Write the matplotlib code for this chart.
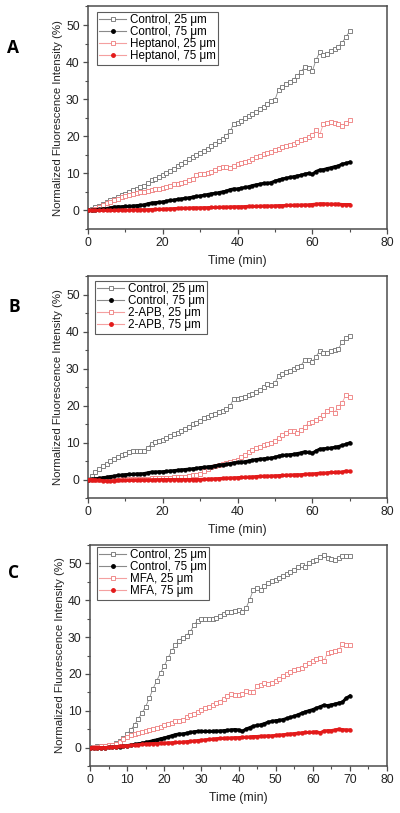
import matplotlib
matplotlib.use("Agg")
import matplotlib.pyplot as plt
from matplotlib.lines import Line2D
from matplotlib.ticker import MultipleLocator
import numpy as np

plt.rcParams['font.family'] = ['Liberation Sans', 'DejaVu Sans']

time_min = list(range(0, 71))

# Panel A
a_control_25 = [0.0,0.3,0.8,1.3,1.8,2.3,2.8,3.2,3.7,4.1,4.5,4.9,5.4,5.8,6.2,6.5,7.5,8.1,8.5,9.0,9.5,10.0,10.7,11.3,11.9,12.6,13.2,13.8,14.4,14.9,15.5,16.1,16.7,17.3,17.9,18.6,19.3,20.2,21.3,23.4,23.5,24.1,24.8,25.4,26.0,26.6,27.3,28.0,28.8,29.6,29.8,32.6,33.4,34.0,34.7,35.3,36.3,37.3,38.8,38.3,37.5,40.6,42.6,41.8,42.3,42.9,43.5,44.2,45.2,46.8,48.3]
a_control_75 = [0,0.1,0.2,0.3,0.4,0.5,0.7,0.9,1.0,1.0,1.1,1.1,1.2,1.3,1.4,1.5,1.8,2.0,2.1,2.2,2.3,2.5,2.7,2.8,3.0,3.1,3.3,3.4,3.6,3.8,3.9,4.1,4.3,4.5,4.6,4.8,5.0,5.2,5.6,5.8,5.8,6.0,6.2,6.4,6.7,6.9,7.1,7.3,7.3,7.5,7.9,8.2,8.5,8.7,8.9,9.1,9.3,9.5,9.8,10.0,9.7,10.5,10.9,11.0,11.3,11.5,11.8,12.0,12.5,12.7,13.0]
a_drug_25 = [0,0.2,0.5,0.9,1.4,1.9,2.4,2.8,3.2,3.6,3.9,4.2,4.5,4.7,4.9,5.1,5.3,5.5,5.7,5.9,6.1,6.3,6.7,7.0,7.2,7.4,7.7,8.1,8.6,9.6,9.8,9.7,10.0,10.4,11.0,11.5,11.6,11.8,11.5,12.0,12.5,12.8,13.0,13.4,13.9,14.4,14.8,15.2,15.4,15.8,16.2,16.6,17.0,17.3,17.6,18.0,18.4,18.9,19.4,19.8,20.3,21.6,20.4,23.4,23.6,23.8,23.6,23.2,22.8,23.5,24.3]
a_drug_75 = [0.0,0.0,0.0,0.0,0.0,0.0,0.0,0.0,0.05,0.1,0.1,0.1,0.15,0.2,0.2,0.2,0.2,0.25,0.3,0.3,0.35,0.4,0.45,0.5,0.55,0.6,0.6,0.65,0.7,0.7,0.7,0.75,0.75,0.8,0.8,0.85,0.9,0.9,0.95,1.0,1.0,1.0,1.05,1.1,1.1,1.1,1.15,1.2,1.2,1.2,1.25,1.3,1.3,1.35,1.4,1.4,1.45,1.45,1.5,1.5,1.6,1.7,1.8,1.8,1.75,1.7,1.7,1.7,1.6,1.6,1.6]

# Panel B
b_control_25 = [0,0.9,1.9,2.8,3.6,4.3,4.9,5.5,6.0,6.5,7.0,7.3,7.6,7.8,7.7,7.8,8.6,9.7,10.1,10.3,10.6,11.2,11.7,12.2,12.7,13.1,13.7,14.3,14.9,15.4,15.9,16.5,16.9,17.3,17.8,18.2,18.5,19.0,19.9,21.8,21.7,22.0,22.4,22.8,23.2,23.6,24.2,24.9,25.7,25.5,26.0,28.1,28.6,29.0,29.4,29.8,30.3,30.8,32.4,32.2,31.7,33.2,34.8,34.3,34.2,34.6,35.0,35.3,37.1,38.2,38.9]
b_control_75 = [0,0.1,0.2,0.3,0.5,0.6,0.8,0.9,1.1,1.2,1.3,1.4,1.4,1.5,1.5,1.6,1.8,2.0,2.0,2.1,2.1,2.2,2.3,2.4,2.5,2.6,2.7,2.8,2.9,3.0,3.2,3.3,3.4,3.5,3.7,3.9,4.0,4.1,4.3,4.5,4.6,4.7,4.8,5.0,5.2,5.4,5.5,5.6,5.7,5.8,6.0,6.3,6.5,6.6,6.7,6.8,7.0,7.2,7.5,7.3,7.1,7.7,8.2,8.3,8.4,8.5,8.7,8.9,9.2,9.5,9.9]
b_drug_25 = [0,0,0,0,0,0,0,0,0,0.05,0.1,0.1,0.15,0.2,0.2,0.2,0.25,0.3,0.3,0.35,0.4,0.45,0.5,0.55,0.6,0.7,0.8,1.0,1.2,1.3,1.5,2.3,2.9,3.3,3.6,3.9,4.1,4.4,4.7,5.0,5.4,6.0,6.6,7.5,8.0,8.6,8.9,9.2,9.5,10.0,10.5,11.2,12.0,12.5,13.0,13.2,12.6,13.4,14.2,15.2,15.6,16.0,16.6,17.5,18.6,19.0,18.1,19.6,20.8,22.8,22.2]
b_drug_75 = [0,0,-0.1,-0.2,-0.3,-0.4,-0.5,-0.3,-0.2,-0.2,-0.2,-0.2,-0.15,-0.15,-0.1,-0.1,-0.1,-0.1,-0.05,-0.05,0,0,0,0,0,0,0,0,0,0,0,0.05,0.1,0.15,0.2,0.25,0.3,0.35,0.4,0.45,0.5,0.55,0.6,0.65,0.7,0.8,0.85,0.9,0.9,0.95,1.0,1.05,1.1,1.15,1.2,1.25,1.3,1.3,1.4,1.5,1.5,1.6,1.7,1.7,1.8,1.9,1.9,2.0,2.0,2.3,2.2]

# Panel C
c_control_25 = [0.2,0.2,0.3,0.3,0.4,0.5,0.7,1.2,1.8,2.6,3.6,4.8,6.2,7.8,9.4,11.1,13.5,16.0,18.2,20.3,22.2,24.3,26.2,27.8,29.0,29.8,30.4,31.5,33.2,34.5,34.8,34.8,34.9,35.0,35.3,35.8,36.4,36.9,36.9,37.2,37.3,36.7,37.8,40.2,42.8,43.3,42.8,43.8,44.8,45.3,45.6,46.0,46.5,47.0,47.6,48.3,49.0,49.6,49.1,50.0,50.7,51.0,51.7,52.4,51.6,51.2,50.9,51.4,52.1,51.9,52.0]
c_control_75 = [0,0,0,0,0,0.05,0.1,0.15,0.25,0.4,0.5,0.7,0.85,1.0,1.2,1.4,1.6,1.9,2.1,2.4,2.6,2.9,3.2,3.5,3.7,3.7,3.9,4.1,4.3,4.4,4.4,4.4,4.4,4.4,4.5,4.5,4.6,4.7,4.8,4.9,4.8,4.4,5.0,5.4,5.8,6.0,6.2,6.5,6.9,7.1,7.3,7.4,7.6,7.9,8.2,8.5,8.9,9.3,9.7,10.0,10.3,10.7,11.1,11.5,11.4,11.6,11.8,12.1,12.3,13.4,14.0]
c_drug_25 = [0.0,0.1,0.2,0.3,0.4,0.6,0.8,1.1,1.6,2.2,2.8,3.3,3.7,4.0,4.3,4.5,4.8,5.0,5.3,5.7,6.0,6.4,6.8,7.1,7.3,7.6,8.2,8.8,9.2,9.6,10.1,10.7,11.1,11.5,12.0,12.5,13.2,13.9,14.5,14.3,14.2,14.6,15.3,15.2,15.1,16.6,17.1,17.5,17.2,17.6,18.0,18.6,19.3,19.9,20.5,21.0,21.3,21.7,22.3,22.9,23.5,24.0,24.4,23.4,25.8,26.0,26.2,26.6,28.0,27.8,27.8]
c_drug_75 = [0,0,0,0,0,0.05,0.1,0.2,0.3,0.4,0.5,0.6,0.7,0.8,0.9,1.0,1.0,1.1,1.1,1.2,1.2,1.3,1.3,1.4,1.4,1.5,1.6,1.7,1.8,1.9,2.0,2.1,2.2,2.3,2.4,2.5,2.5,2.6,2.6,2.7,2.7,2.8,2.8,2.9,3.0,3.0,3.1,3.1,3.2,3.2,3.3,3.4,3.5,3.6,3.7,3.8,3.9,4.0,4.1,4.1,4.2,4.3,4.0,4.5,4.6,4.6,4.8,5.0,4.9,4.8,4.8]

panel_letters = ['A', 'B', 'C']
drug_names = ['Heptanol', '2-APB', 'MFA']
x_ticks_major = [20, 20, 10]
x_ticks_minor = [10, 10, 5]

panels = [
    (a_control_25, a_control_75, a_drug_25, a_drug_75),
    (b_control_25, b_control_75, b_drug_25, b_drug_75),
    (c_control_25, c_control_75, c_drug_25, c_drug_75),
]

W, H = 400, 813
fig = plt.figure(figsize=(W / 100, H / 100), dpi=100)

# axes boxes in pixels: left, top, right, bottom
boxes = [(88, 6.5, 387, 229), (88, 276, 387, 498), (90, 545, 387, 766)]
legend_tl = [(97, 12), (95, 281), (97, 547)]
letter_pos = [(7, 48), (8, 307), (8, 573)]

spine_col = '#4d4d4d'
gray_sq = '#6f6f6f'
red_sq = '#ee7b7b'
red_fill = '#e31a1a'

for i, (box, series) in enumerate(zip(boxes, panels)):
    l, t, r, b = box
    ax = fig.add_axes([l / W, 1 - b / H, (r - l) / W, (b - t) / H])
    c25, c75, d25, d75 = series
    ax.plot(time_min, c25, ls='-', lw=0.6, color='#8a8a8a', marker='s', ms=3.2,
            mfc='white', mec=gray_sq, mew=0.6, zorder=3)
    ax.plot(time_min, d25, ls='-', lw=0.6, color='#f4a0a0', marker='s', ms=3.2,
            mfc='white', mec=red_sq, mew=0.6, zorder=3)
    ax.plot(time_min, c75, ls='-', lw=2.2, color='black', marker='o', ms=2.8,
            mfc='black', mec='black', mew=0.3, zorder=4)
    ax.plot(time_min, d75, ls='-', lw=2.2, color=red_fill, marker='o', ms=2.8,
            mfc=red_fill, mec=red_fill, mew=0.3, zorder=5)

    ax.set_xlim(0, 80)
    ax.set_ylim(-5, 55)
    ax.xaxis.set_major_locator(MultipleLocator(x_ticks_major[i]))
    ax.xaxis.set_minor_locator(MultipleLocator(x_ticks_minor[i]))
    ax.yaxis.set_major_locator(MultipleLocator(10))
    ax.yaxis.set_minor_locator(MultipleLocator(5))
    ax.tick_params(which='major', direction='out', length=3.5, width=0.9,
                   color=spine_col, labelsize=8.8, pad=2.5, labelcolor='#222222')
    ax.tick_params(which='minor', direction='out', length=2, width=0.8, color=spine_col)
    for s in ax.spines.values():
        s.set_color(spine_col)
        s.set_linewidth(1.1)
    ax.set_xlabel('Time (min)', fontsize=8.8, labelpad=4, color='#222222')
    ax.set_ylabel('Normalized Fluorescence Intensity (%)', fontsize=8.2,
                  labelpad=2, color='#222222')

    handles = [
        Line2D([], [], color='#8a8a8a', lw=0.8, marker='s', ms=2.5, mfc='white',
               mec=gray_sq, mew=0.6),
        Line2D([], [], color='#8a8a8a', lw=0.8, marker='o', ms=2.5, mfc='black',
               mec='black'),
        Line2D([], [], color='#f4a0a0', lw=0.8, marker='s', ms=2.5, mfc='white',
               mec=red_sq, mew=0.6),
        Line2D([], [], color='#f4a0a0', lw=0.8, marker='o', ms=2.5, mfc=red_fill,
               mec=red_fill),
    ]
    labels = ['Control, 25 μm', 'Control, 75 μm',
              f'{drug_names[i]}, 25 μm', f'{drug_names[i]}, 75 μm']
    lx, ly = legend_tl[i]
    leg = ax.legend(handles, labels, loc='upper left',
                    bbox_to_anchor=((lx - l) / (r - l), 1 - (ly - t) / (b - t)),
                    fontsize=8.4, numpoints=1, handlelength=2.3, handletextpad=0.3,
                    borderpad=0.2, labelspacing=0.0, borderaxespad=0.0,
                    frameon=True, fancybox=False, edgecolor='#333333')
    leg.get_frame().set_linewidth(0.8)

    fig.text(letter_pos[i][0] / W, 1 - letter_pos[i][1] / H, panel_letters[i],
             fontsize=12.5, fontweight='bold', ha='left', va='center',
             family=['Open Sans', 'DejaVu Sans'])

fig.savefig('out.png', dpi=100)
